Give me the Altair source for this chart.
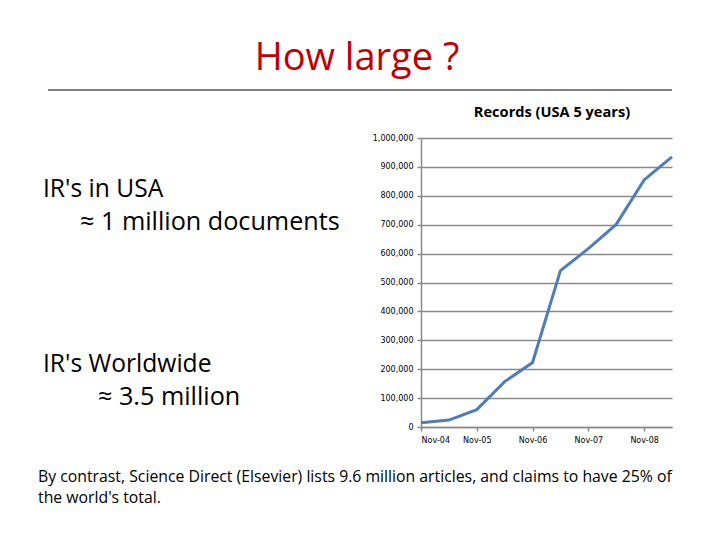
import altair as alt
import pandas as pd

# data
periods = ["Nov-04", "May-05", "Nov-05", "May-06", "Nov-06",
           "May-07", "Nov-07", "May-08", "Nov-08", "May-09"]
half_years = [0, 0.5, 1, 1.5, 2, 2.5, 3, 3.5, 4, 4.5]
records = [15000, 24000, 60000, 157000, 223000,
           541000, 617000, 701000, 855000, 935000]
tick_years = [0, 1, 2, 3, 4]
tick_labels = ["Nov-04", "Nov-05", "Nov-06", "Nov-07", "Nov-08"]

df = pd.DataFrame({"period": periods, "t": half_years, "records": records})

label_expr = "[" + ",".join(f"'{s}'" for s in tick_labels) + "][datum.value]"

FONT = "Open Sans"
GRID = "#8a8a8a"

line = alt.Chart(df).mark_line(color="#4F7DB8", strokeWidth=3).encode(
    x=alt.X("t:Q",
            scale=alt.Scale(domain=[0, 4.5], nice=False, zero=False),
            axis=alt.Axis(values=tick_years, labelExpr=label_expr, title=None,
                          grid=False, domainColor=GRID, domainWidth=1.5,
                          tickColor=GRID, tickWidth=1.5, tickSize=4,
                          labelFont="DejaVu Sans", labelFontSize=8,
                          labelColor="#000000", labelPadding=5)),
    y=alt.Y("records:Q",
            scale=alt.Scale(domain=[0, 1000000], nice=False),
            axis=alt.Axis(values=list(range(0, 1000001, 100000)), format=",d",
                          title=None, grid=True, gridColor=GRID, gridWidth=1.5,
                          domainColor=GRID, domainWidth=1.5, tickColor=GRID,
                          tickWidth=1.5, tickSize=4, labelFont="DejaVu Sans",
                          labelFontSize=8, labelColor="#000000", labelPadding=4)),
)

one = alt.Data(values=[{}])


def txt(s, x, y, size, color="#000000", weight="normal", align="left"):
    return alt.Chart(one).mark_text(
        text=s, font=FONT, fontSize=size, color=color, fontWeight=weight,
        align=align, baseline="alphabetic"
    ).encode(x=alt.value(x), y=alt.value(y))


title = txt("How large ?", -64, -68, 38, color="#C00000", align="center")
rule = alt.Chart(one).mark_rule(color="#000000", strokeWidth=1).encode(
    x=alt.value(-373), x2=alt.value(251), y=alt.value(-48))
chart_title = txt("Records (USA 5 years)", 131, -21, 14.6, weight="bold", align="center")
usa1 = txt("IR's in USA", -378, 59, 24.6)
usa2 = txt("≈ 1 million documents", -341, 92, 25.2)
ww1 = txt("IR's Worldwide", -378, 234, 24.6)
ww2 = txt("≈ 3.5 million", -323, 267, 25.2)
foot1 = txt("By contrast, Science Direct (Elsevier) lists 9.6 million articles, and claims to have 25% of",
            -383, 344, 15.8)
foot2 = txt("the world's total.", -383, 365, 15.8)

chart = alt.layer(line, title, rule, chart_title, usa1, usa2, ww1, ww2, foot1, foot2).properties(
    width=251, height=289,
    autosize=alt.AutoSizeParams(type="none"),
    padding={"left": 413, "top": 130, "right": 32, "bottom": 105},
    background="white",
).configure_view(stroke=None)

chart.save("out.html", embed_options={"renderer": "svg", "actions": False})
